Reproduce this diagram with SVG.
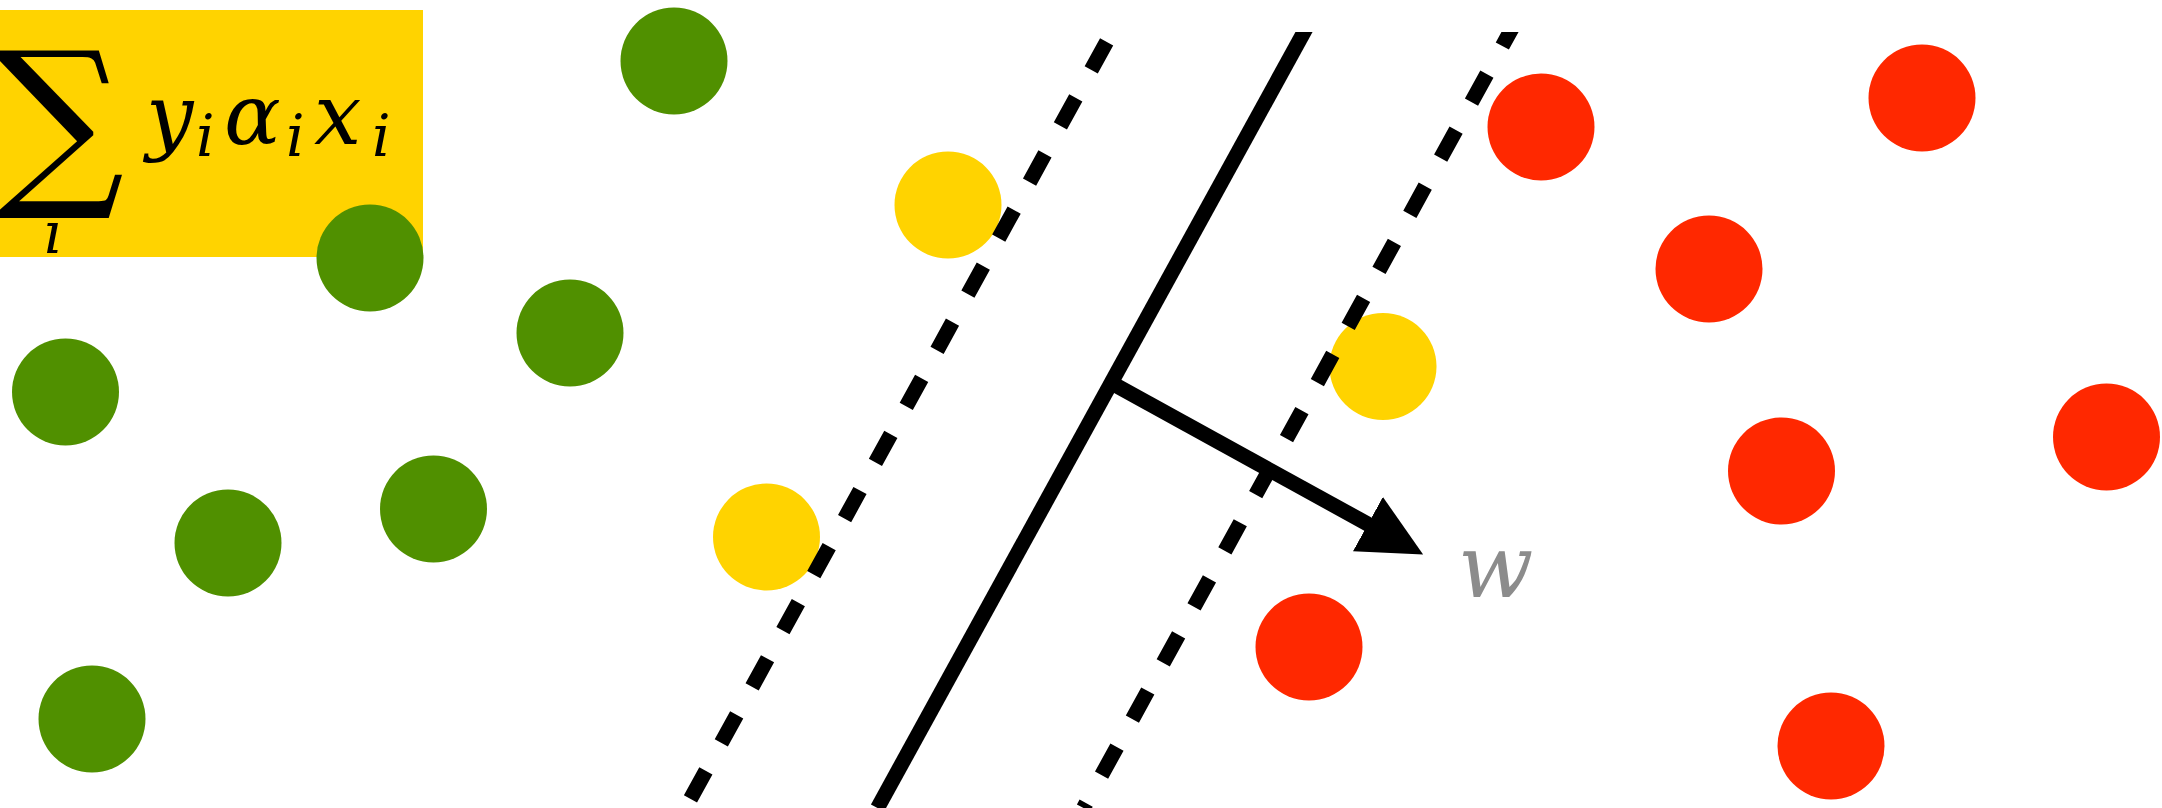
<svg xmlns="http://www.w3.org/2000/svg" width="2162" height="808" viewBox="0 0 2162 808">
  <style>
    .g { fill: #509000; }
    .y { fill: #FFD300; }
    .r { fill: #FF2800; }
    .ln { stroke: #000; stroke-width: 15; fill: none; stroke-linecap: butt; }
    .dash { stroke-dasharray: 32 32; }
    .math { font-family: "DejaVu Serif", "Liberation Serif", serif; font-style: italic; fill: #000; }
    .op { font-family: "DejaVu Serif", "Liberation Serif", serif; fill: #000; }
    .wlab { font-family: "DejaVu Serif", "Liberation Serif", serif; font-style: italic; fill: #8C8C8C; }
  </style>
  <defs>
    <clipPath id="clipTop">
      <rect x="0" y="32" width="2162" height="776"/>
    </clipPath>
    <marker id="head" markerUnits="userSpaceOnUse" viewBox="0 0 63 62" markerWidth="63" markerHeight="62" refX="1" refY="31" orient="auto">
      <path d="M0,0 L63,31 L0,62 Z" fill="#000"/>
    </marker>
  </defs>
  <rect width="2162" height="808" fill="#fff"/>

  <g id="formula">
    <rect x="0" y="10" width="423" height="247" class="y"/>
    <text class="op" x="-7" y="183" font-size="184">∑</text>
    <text class="math" x="44" y="253" font-size="58">i</text>
    <text class="math" x="146" y="144" font-size="84">y</text>
    <text class="math" x="196" y="156" font-size="58">i</text>
    <text class="math" x="224" y="144" font-size="84">α</text>
    <text class="math" x="286" y="156" font-size="58">i</text>
    <text class="math" x="314" y="144" font-size="84">x</text>
    <text class="math" x="372" y="156" font-size="58">i</text>
  </g>

  <g id="green-points">
    <circle id="g1" class="g" cx="674" cy="61" r="53.5"/>
    <circle id="g2" class="g" cx="370" cy="258" r="53.5"/>
    <circle id="g3" class="g" cx="570" cy="333" r="53.5"/>
    <circle id="g4" class="g" cx="65.5" cy="392" r="53.5"/>
    <circle id="g5" class="g" cx="433.5" cy="509" r="53.5"/>
    <circle id="g6" class="g" cx="228" cy="543" r="53.5"/>
    <circle id="g7" class="g" cx="92" cy="719" r="53.5"/>
  </g>

  <g id="support-vectors">
    <circle id="s1" class="y" cx="948" cy="205" r="53.5"/>
    <circle id="s2" class="y" cx="1383" cy="366.5" r="53.5"/>
    <circle id="s3" class="y" cx="766.5" cy="537" r="53.5"/>
  </g>

  <g id="red-points">
    <circle id="r1" class="r" cx="1541" cy="127" r="53.5"/>
    <circle id="r2" class="r" cx="1922" cy="98" r="53.5"/>
    <circle id="r3" class="r" cx="1709" cy="269" r="53.5"/>
    <circle id="r4" class="r" cx="1781.5" cy="471" r="53.5"/>
    <circle id="r5" class="r" cx="2106.5" cy="437" r="53.5"/>
    <circle id="r6" class="r" cx="1309" cy="647" r="53.5"/>
    <circle id="r7" class="r" cx="1831" cy="746" r="53.5"/>
  </g>

  <g id="connectors">
    <g clip-path="url(#clipTop)">
      <line id="margin-left" class="ln dash" x1="1129.6" y1="0" x2="685.5" y2="808" stroke-dashoffset="16.3"/>
      <line id="hyperplane" class="ln" x1="1321.6" y1="0" x2="877.5" y2="808"/>
      <line id="margin-right" class="ln dash" x1="1527.6" y1="0" x2="1083.5" y2="808" stroke-dashoffset="43.5"/>
    </g>
    <line id="normal-w" class="ln" x1="1111.3" y1="382.9" x2="1368.8" y2="524.6" marker-end="url(#head)"/>
  </g>

  <g id="label-w">
    <text class="wlab" x="1458" y="597" font-size="88">w</text>
  </g>
</svg>
